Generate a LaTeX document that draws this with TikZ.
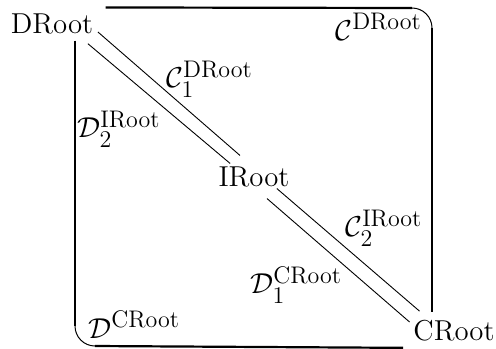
\documentclass[tikz,border=0pt]{standalone}
\usepackage{amssymb}
\DeclareMathSizes{14.4}{14.4}{11.5}{9}

\tikzset{
    root/.style={font=\Large, inner sep=3pt},
    lbl/.style={font=\Large, inner sep=0pt, anchor=west},
    frame/.style={line width=1.1pt},
    corner/.style={line width=0.5pt},
    strand/.style={line width=0.45pt}
  }

\begin{document}
\begin{tikzpicture}[x=0.5pt, y=-0.5pt]
    \useasboundingbox (0,0) rectangle (496,348);

    \node[root] (droot) at (52,24) {DRoot};
    \node[root] (iroot) at (254,177) {IRoot};
    \node[root] (croot) at (454,331) {CRoot};

    \coordinate (ne) at (432,8);
    \coordinate (sw) at (75,346);

    \draw[frame] ([xshift=3pt]droot.north east) -- ([xshift=-10pt]ne);
    \draw[corner] ([xshift=-10pt]ne) arc[start angle=90, end angle=0, radius=10pt];
    \draw[frame] ([yshift=-10pt]ne) -- ([xshift=-11pt,yshift=1pt]croot.north);

    \draw[frame] ([xshift=11.5pt]droot.south) -- ([yshift=10pt]sw);
    \draw[corner] ([yshift=10pt]sw) arc[start angle=180, end angle=270, radius=10pt];
    \draw[frame] ([xshift=10pt]sw) -- ([xshift=-2pt]croot.south west);

    \draw[strand] ([xshift=-0.8pt,yshift=-4pt]droot.east) -- ([xshift=-7pt,yshift=2.5pt]iroot.north);
    \draw[strand] ([xshift=-5.8pt,yshift=-1.6pt]droot.south east) -- ([xshift=9pt,yshift=-1.5pt]iroot.north west);
    \draw[strand] ([xshift=-9.5pt,yshift=2.5pt]iroot.south east) -- ([xshift=6.25pt,yshift=1.5pt]croot.north west);
    \draw[strand] ([xshift=6.5pt,yshift=-2.5pt]iroot.south) -- ([xshift=1.25pt,yshift=4.5pt]croot.west);

    \node[lbl] (c1) at (166,79) {$\mathcal{C}_1^{\mathrm{DRoot}}$};
    \node[lbl] (d2) at (77,129) {$\mathcal{D}_2^{\mathrm{IRoot}}$};
    \node[lbl] (c2) at (345,228) {$\mathcal{C}_2^{\mathrm{IRoot}}$};
    \node[lbl] (d1) at (250,285) {$\mathcal{D}_1^{\mathrm{CRoot}}$};
    \node[lbl] (cd) at (335,27) {$\mathcal{C}^{\mathrm{DRoot}}$};
    \node[lbl] (dc) at (88,325) {$\mathcal{D}^{\mathrm{CRoot}}$};

  \end{tikzpicture}
\end{document}
